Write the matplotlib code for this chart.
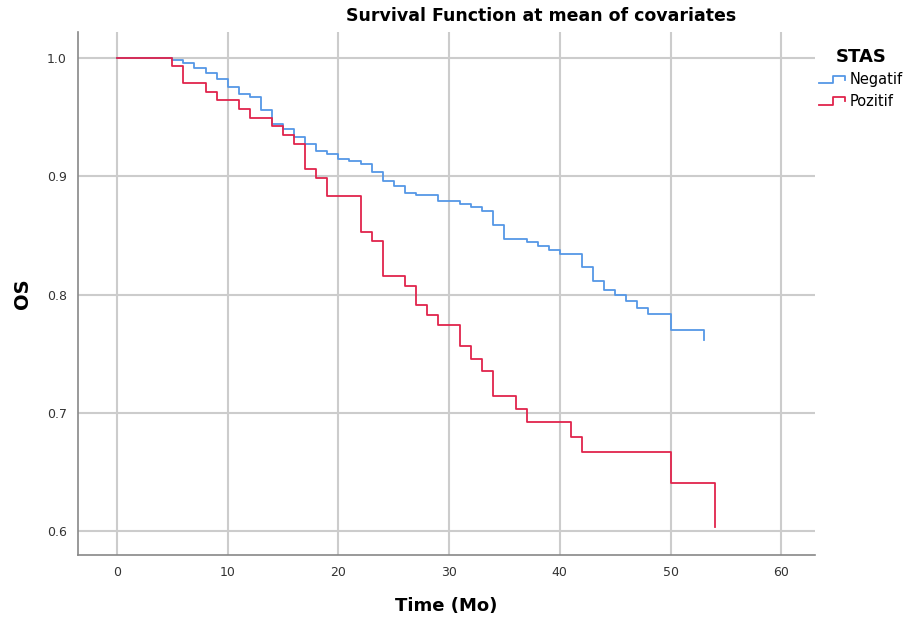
import matplotlib
matplotlib.use("Agg")
import matplotlib.pyplot as plt
from matplotlib.lines import Line2D
from matplotlib.legend_handler import HandlerBase

# Kaplan-Meier style survival estimates
times_neg = [0, 5, 6, 7, 8, 9, 10, 11, 12, 13, 14, 15, 16, 17, 18, 19, 20, 21, 22,
             23, 24, 25, 26, 27, 29, 31, 32, 33, 34, 35, 37, 38, 39, 40, 42, 43, 44,
             45, 46, 47, 48, 50, 53]
surv_neg = [1.0, 0.998, 0.9958, 0.9913, 0.987, 0.9825, 0.9758, 0.9693, 0.967, 0.9557,
            0.9439, 0.940, 0.9328, 0.9269, 0.9215, 0.9189, 0.9148, 0.9125, 0.9105,
            0.9034, 0.8958, 0.8915, 0.8861, 0.8839, 0.8788, 0.8768, 0.8737, 0.8708,
            0.859, 0.8472, 0.8441, 0.841, 0.8376, 0.8344, 0.8231, 0.8116, 0.8034,
            0.7992, 0.7944, 0.789, 0.7837, 0.7704, 0.7617]

times_pos = [0, 5, 6, 8, 9, 11, 12, 14, 15, 16, 17, 18, 19, 22, 23, 24, 26, 27, 28,
             29, 31, 32, 33, 34, 36, 37, 41, 42, 50, 54]
surv_pos = [1.0, 0.9935, 0.979, 0.9712, 0.9642, 0.957, 0.9495, 0.9428, 0.935, 0.9276,
            0.9061, 0.8985, 0.8836, 0.8531, 0.8455, 0.8153, 0.8076, 0.7912, 0.7828,
            0.774, 0.7562, 0.7458, 0.7353, 0.7138, 0.7031, 0.6924, 0.6794, 0.6665,
            0.6403, 0.6037]

groups = ["Negatif", "Pozitif"]
colors = ["#5597e6", "#e0244c"]
xticks = [0, 10, 20, 30, 40, 50, 60]
yticks = [0.6, 0.7, 0.8, 0.9, 1.0]


class StepHandler(HandlerBase):
    # legend icon drawn as a small step, like SPSS does
    def create_artists(self, legend, orig_handle, xdescent, ydescent,
                       width, height, fontsize, trans):
        x0 = -xdescent
        y0 = -ydescent
        xs = [x0, x0 + 0.55 * width, x0 + 0.55 * width, x0 + width, x0 + width]
        ys = [y0 + 0.1 * height, y0 + 0.1 * height, y0 + 0.85 * height,
              y0 + 0.85 * height, y0 + 0.45 * height]
        ln = Line2D(xs, ys, color=orig_handle.get_color(), lw=1.3, transform=trans)
        return [ln]


fig = plt.figure(figsize=(9.19, 6.25), dpi=100)
ax = fig.add_axes([0.0849, 0.112, 0.8019, 0.8368])

h1, = ax.step(times_neg, surv_neg, where="post", color=colors[0], lw=1.3)
h2, = ax.step(times_pos, surv_pos, where="post", color=colors[1], lw=1.3)

ax.set_xlim(-3.52, 63.05)
ax.set_ylim(0.5797, 1.022)
ax.set_xticks(xticks)
ax.set_yticks(yticks)
ax.set_yticklabels([f"{v:.1f}" for v in yticks])
ax.tick_params(length=0, labelsize=9, colors="#333333", pad=8)
ax.grid(True, color="#cccccc", lw=1.5)
ax.set_axisbelow(True)

for s in ["top", "right"]:
    ax.spines[s].set_visible(False)
for s in ["left", "bottom"]:
    ax.spines[s].set_color("#888888")
    ax.spines[s].set_linewidth(1.2)

ax.set_xlabel("Time (Mo)", fontsize=13, fontweight="bold", labelpad=13)
ax.set_ylabel("OS", fontsize=14, fontweight="bold", labelpad=11)

fig.text(0.589, 0.975, "Survival Function at mean of covariates",
         ha="center", va="center", fontsize=12.5, fontweight="bold")

leg = fig.legend([h1, h2], groups, title="STAS", loc="upper left",
                 bbox_to_anchor=(0.88, 0.94), frameon=False, fontsize=10.5,
                 handlelength=1.8, handletextpad=0.3, labelspacing=0.45,
                 borderpad=0.2, handler_map={Line2D: StepHandler()})
leg.get_title().set_fontweight("bold")
leg.get_title().set_fontsize(13)

fig.savefig("out.png", dpi=100)
